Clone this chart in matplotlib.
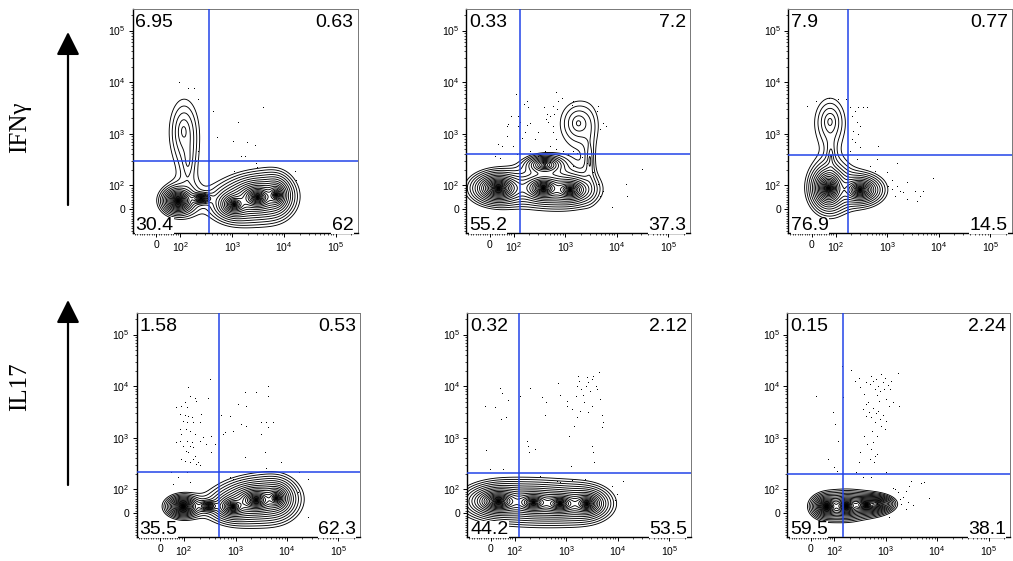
import numpy as np
import matplotlib
matplotlib.use('Agg')
import matplotlib.pyplot as plt
from matplotlib.ticker import FixedLocator, FixedFormatter, NullFormatter

plt.rcParams['font.family'] = ['Liberation Sans', 'DejaVu Sans']
plt.rcParams['mathtext.fontset'] = 'custom'
plt.rcParams['mathtext.rm'] = 'Liberation Sans'
plt.rcParams['mathtext.it'] = 'Liberation Sans:italic'
plt.rcParams['mathtext.bf'] = 'Liberation Sans:bold'

# ---------------- data ----------------
row_labels = ['IFN\u03b3', 'IL17']
tick_values = [0, 1e2, 1e3, 1e4, 1e5]
tick_labels = ['0', '$10^{2}$', '$10^{3}$', '$10^{4}$', '$10^{5}$']
axis_min, axis_max = -100, 262144

# quadrant percentages (UL, UR, LL, LR) per panel, row-major
quad_00 = ['6.95', '0.63', '30.4', '62']
quad_01 = ['0.33', '7.2', '55.2', '37.3']
quad_02 = ['7.9', '0.77', '76.9', '14.5']
quad_10 = ['1.58', '0.53', '35.5', '62.3']
quad_11 = ['0.32', '2.12', '44.2', '53.5']
quad_12 = ['0.15', '2.24', '59.5', '38.1']

# quadrant gate positions
gate_x = [350, 130, 177, 473, 124, 148]
gate_y = [300, 408, 391, 222, 206, 197]

# density components: centre x, centre y (data units), spread x, spread y (decades), peak height, profile
comp_00 = dict(cx=[90, 1100, 3100, 7000, 250, 115, 140],
               cy=[35, 20, 50, 60, 45, 1135, 300],
               sx=[0.0052, 0.009, 0.0096, 0.006, 0.057, 0.23, 0.12],
               sy=[0.0043, 0.0069, 0.0068, 0.0075, 0.029, 0.50, 0.43],
               amp=[1.0, 0.35, 0.9, 0.4, 0.03, 0.0028, 0.0016],
               shape=[0.45, 0.45, 0.45, 0.45, 1.0, 1.0, 1.0])
comp_01 = dict(cx=[36, 378, 1240, 400, 1800, 3000],
               cy=[88, 88, 81, 250, 1600, 300],
               sx=[0.0086, 0.0091, 0.0118, 0.13, 0.29, 0.076],
               sy=[0.0052, 0.0055, 0.0071, 0.065, 0.35, 0.38],
               amp=[1.0, 0.6, 0.3, 0.02, 0.003, 0.0018],
               shape=[0.45, 0.45, 0.45, 1.0, 1.0, 1.0])
comp_02 = dict(cx=[70, 298, 76, 80],
               cy=[88, 81, 1720, 350],
               sx=[0.0058, 0.0101, 0.24, 0.06],
               sy=[0.0074, 0.0068, 0.37, 0.26],
               amp=[1.0, 0.35, 0.003, 0.0018],
               shape=[0.45, 0.45, 1.0, 1.0])
comp_10 = dict(cx=[96, 894, 2530, 6170, 300],
               cy=[28, 28, 55, 63, 30],
               sx=[0.0053, 0.0086, 0.0107, 0.0073, 0.057],
               sy=[0.0034, 0.0058, 0.0064, 0.0073, 0.029],
               amp=[1.0, 0.4, 0.9, 0.4, 0.03],
               shape=[0.45, 0.45, 0.45, 0.45, 1.0])
comp_11 = dict(cx=[32, 232, 760, 2500],
               cy=[50, 45, 40, 40],
               sx=[0.0107, 0.0112, 0.0113, 0.0085],
               sy=[0.0054, 0.0058, 0.0058, 0.0059],
               amp=[1.0, 0.6, 0.55, 0.5],
               shape=[0.45, 0.45, 0.45, 0.45])
comp_12 = dict(cx=[67, 172, 420, 700],
               cy=[28, 30, 35, 40],
               sx=[0.0047, 0.0052, 0.0088, 0.075],
               sy=[0.0036, 0.0037, 0.0041, 0.037],
               amp=[1.0, 0.9, 0.5, 0.05],
               shape=[0.45, 0.45, 0.45, 1.0])

# sparse events drawn as dots
dots_x_00 = [95, 140, 180, 215, 420, 510, 1030, 1300, 1950, 2800, 3900, 1450, 1780, 2900, 1100, 16000, 17000, 215, 200, 3000]
dots_y_00 = [9500, 7300, 7500, 4500, 2600, 820, 680, 1650, 650, 580, 3100, 360, 360, 260, 180, 180, 120, 450, 290, 215]

dots_x_01 = [112, 124, 130, 119, 78, 185, 208, 167, 71, 36, 50, 97, 144, 260, 303, 208, 303, 407, 452, 510, 472, 590,
             608, 684, 738, 855, 590, 573, 665, 510, 665, 923, 1150, 1440, 1670, 2085, 665, 393, 426, 194, 160, 71,
             88, 22, 43, 115, 378, 508, 1440, 1335, 4070, 4390, 5480, 6080, 4720, 2610, 3510, 4390, 5480, 4720, 7940,
             15000, 30200, 15900, 1440, 180]
dots_y_01 = [5650, 2150, 1600, 1375, 1480, 1420, 1550, 1020, 881, 608, 565, 565, 783, 760, 1020, 452, 361, 452, 2318,
             2150, 1644, 3360, 2318, 2890, 4200, 4660, 1375, 1020, 760, 565, 486, 452, 389, 452, 407, 336, 6080, 3210,
             1850, 3210, 3610, 1375, 2085, 361, 321, 389, 268, 268, 4200, 3460, 2685, 3260, 1550, 1375, 1185, 261, 172,
             100, 74, 53, 4, 100, 200, 53, 232, 4200]

dots_x_02 = [-21, 18, 70, 113, 160, 191, 238, 277, 346, 413, 205, 257, 298, 221, 277, 205, 238, 298, 191, 675, 1530,
             257, 627, 466, 582, 980, 1220, 1530, 1770, 2055, 1420, 2380, 3460, 4315, 4870, 3720, 7830, 2380, 1220, 1055]
dots_y_02 = [3260, 4200, 4660, 4520, 4520, 3120, 2690, 3120, 3120, 3120, 2150, 1600, 1375, 1100, 950, 760, 655, 524,
             452, 565, 260, 312, 312, 232, 185, 172, 119, 95, 74, 67, 53, 39, 70, 53, 74, 32, 132, 110, 81, 95]

dots_x_10 = [120, 129, 162, 174, 104, 89, 115, 68, 82, 104, 120, 140, 218, 96, 115, 150, 202, 82, 108, 129, 89, 162,
             82, 115, 140, 202, 68, 235, 340, 96, 129, 150, 108, 120, 162, 89, 104, 129, 174, 202, 395, 340, 272, 293,
             316, 47, 115, 75, 133, 54, 188, 150,
             572, 616, 893, 1117, 1503, 1618, 2528, 4250, 4250, 531, 769, 1295, 1618, 3162, 3945, 4250, 5310, 3162,
             3664, 1503, 7690, 3945, 893, 1202, 769, 17460, 25300, 25300, 16200]
dots_y_10 = [9080, 6270, 5560, 5010, 4650, 4010, 3720, 3720, 2770, 2650, 2570, 2385, 2770, 2055, 1910, 1910, 1910,
             1420, 1420, 1316, 1135, 1135, 843, 843, 783, 843, 783, 980, 1055, 675, 675, 627, 540, 501, 432, 372, 346,
             321, 298, 285, 727, 501, 727, 5560, 13150, 205, 205, 164, 132, 122, 321, 372,
             1135, 1220, 1316, 4315, 7260, 4010, 7260, 9770, 6270, 2650, 2570, 1772, 1650, 1910, 1965, 1527, 1910,
             1135, 501, 401, 321, 245, 153, 148, 164, 212, 153, -21, 84]

dots_x_11 = [-24, 18, 39, 46, 74, 42, 63, -19, -3, 53, 128, 200, 177, 185, 194, 249, 336, 407, 389, 705, 760, 1020,
             1020, 1150, 1240, 1440, 1550, 1600, 1720, 1800, 1910, 2090, 2210, 2420, 2490, 2690, 2890, 3120, 3360, 3780,
             4010, 4380, 4520, 4870, 5080, 4870, 3210, 3120, 3360, 3460, 2690, 1860, 1600, 1275,
             655, 760, 1275, 312, 420, 2315, 7600, 9480, 12760, 8810]
dots_y_11 = [4010, 3720, 8690, 7050, 5160, 2215, 2385, 556, 238, 238, 6080, 8690, 843, 675, 501, 580, 5800, 4650, 2650,
             11000, 6400, 5010, 4010, 1055, 277, 1650, 6270, 9770, 15300, 12200, 8430, 6400, 4650, 9770, 14200, 11700,
             7830, 13150, 15300, 9770, 8430, 17700, 5400, 2650, 1910, 1527, 4010, 675, 516, 321, 2980, 3210, 2385, 3430,
             142, 132, 146, 177, 132, 153, 113, 76, 142, 53]

dots_x_12 = [22, 92, 102, 119, 144, 74, 97, 110, 215, 257, 303, 321, 372, 407, 452, 486, 524, 565, 608, 655, 675, 705,
             738, 783, 818, 881, 908, 950, 1020, 1100, 1150, 1275, 1220, 1375, 1720, 1800, 361, 407, 420, 472, 524, 565,
             608, 635, 705, 760, 818, 881, 950, 990, 548, 675, 565, 524, 608, 372, 432, 312, 303, 486, 590, 675, 268,
             361, 524, 1020, 138,
             1480, 1720, 1860, 2150, 2490, 2690, 3120, 3360, 4870, 5650, 7050, 2490, 1995, 1150, 1375, 2890]
dots_y_12 = [6270, 2980, 1772, 818, 5800, 372, 257, 221, 19950, 12200, 13550, 9350, 6740, 11350, 4650, 10540, 14830,
             12200, 8430, 13150, 6400, 9770, 5010, 7830, 16440, 11350, 8430, 13550, 5400, 10070, 4010, 12200, 8430,
             4650, 16940, 4010, 3460, 2570, 4315, 2980, 2385, 3540, 1910, 2880, 3210, 2215, 1650, 2650, 1420, 2055,
             1316, 1055, 783, 580, 432, 1055, 727, 501, 321, 372, 321, 466, 205, 164, 164, 212, 23200,
             97, 83, 56, 63, 90, 42, 142, 28, 128, 132, 58, 14, 35, -21, 100, 113]

# ---------------- scale ----------------
X0 = 94.0
LN10 = np.log(10.0)
U0 = np.log10(X0)


def fwd(x):
    x = np.asarray(x, dtype=float)
    return np.where(x >= X0, np.log10(np.maximum(x, X0)), U0 + (x - X0) / (X0 * LN10))


def inv(u):
    u = np.asarray(u, dtype=float)
    return np.where(u >= U0, 10.0 ** np.clip(u, U0, 12), X0 + (u - U0) * X0 * LN10)


minor_ticks = ([-90, -80, -70, -60, -50, -40, -30, -20, -10, 10, 20, 30, 40, 50, 60, 70, 80, 90] +
               [k * 10.0 ** n for n in (2, 3, 4) for k in range(2, 10)] + [2e5])

W, H = 1013, 561
fig = plt.figure(figsize=(W / 100, H / 100), dpi=100)

# panel boxes in pixels: left, top, right, bottom
boxes = [(132.5, 9, 357.5, 233), (466, 9, 690, 233), (788, 9, 1012, 233),
         (136.5, 313, 360, 537), (467, 313, 691, 537), (787, 313, 1010, 537)]
quads = [quad_00, quad_01, quad_02, quad_10, quad_11, quad_12]
comps = [comp_00, comp_01, comp_02, comp_10, comp_11, comp_12]
dots = [(dots_x_00, dots_y_00), (dots_x_01, dots_y_01), (dots_x_02, dots_y_02),
        (dots_x_10, dots_y_10), (dots_x_11, dots_y_11), (dots_x_12, dots_y_12)]

gate_color = '#2244e8'
ugrid = np.linspace(float(fwd(axis_min)), float(fwd(axis_max)), 800)
UX, UY = np.meshgrid(ugrid, ugrid)
XD, YD = inv(UX), inv(UY)
NLEV = 26
RATIO = np.exp(-7.0 / NLEV)

for i, (l, t, r, b) in enumerate(boxes):
    ax = fig.add_axes([l / W, 1 - b / H, (r - l) / W, (b - t) / H])
    ax.set_xscale('function', functions=(fwd, inv))
    ax.set_yscale('function', functions=(fwd, inv))
    ax.set_xlim(axis_min, axis_max)
    ax.set_ylim(axis_min, axis_max)

    c = comps[i]
    Z = np.zeros_like(UX)
    for cx, cy, sx, sy, a, p in zip(c['cx'], c['cy'], c['sx'], c['sy'], c['amp'], c['shape']):
        ux, uy = float(fwd(cx)), float(fwd(cy))
        d = np.sqrt(((UX - ux) / sx) ** 2 + ((UY - uy) / sy) ** 2)
        Z += a * np.exp(-d ** p)
    zmax = max(c['amp'])
    levels = zmax * RATIO ** np.arange(NLEV, 0, -1)
    ax.contour(XD, YD, Z, levels=levels, colors='black', linewidths=0.65, zorder=2)

    dx, dy = dots[i]
    ax.plot(dx, dy, linestyle='none', marker=',', color='black', zorder=1)

    ax.axvline(gate_x[i], color=gate_color, lw=1.1, zorder=3)
    ax.axhline(gate_y[i], color=gate_color, lw=1.1, zorder=3)

    for axis in (ax.xaxis, ax.yaxis):
        axis.set_major_locator(FixedLocator(tick_values))
        axis.set_major_formatter(FixedFormatter(tick_labels))
        axis.set_minor_locator(FixedLocator(minor_ticks))
        axis.set_minor_formatter(NullFormatter())
    ax.tick_params(which='major', length=3, width=0.7, labelsize=7.5, pad=2, direction='out')
    ax.tick_params(which='minor', length=1.6, width=0.5, direction='out')
    for side in ('top', 'right'):
        ax.spines[side].set_color('#777777')
        ax.spines[side].set_linewidth(0.7)
    for side in ('left', 'bottom'):
        ax.spines[side].set_linewidth(1.0)

    q = quads[i]
    bb = dict(facecolor='white', edgecolor='none', pad=0.3)
    ax.annotate(q[0], (0, 1), xycoords='axes fraction', xytext=(3, -5), textcoords='offset pixels',
                ha='left', va='top', fontsize=14, bbox=bb, zorder=5)
    ax.annotate(q[1], (1, 1), xycoords='axes fraction', xytext=(-4, -5), textcoords='offset pixels',
                ha='right', va='top', fontsize=14, bbox=bb, zorder=5)
    ax.annotate(q[2], (0, 0), xycoords='axes fraction', xytext=(3, 3), textcoords='offset pixels',
                ha='left', va='baseline', fontsize=14, bbox=bb, zorder=5)
    ax.annotate(q[3], (1, 0), xycoords='axes fraction', xytext=(-4, 3), textcoords='offset pixels',
                ha='right', va='baseline', fontsize=14, bbox=bb, zorder=5)

# overlay for row labels and arrows
ov = fig.add_axes([0, 0, 1, 1])
ov.set_xlim(0, W)
ov.set_ylim(H, 0)
ov.axis('off')
for (label, ly, tail, tip) in [(row_labels[0], 127, 205, 32), (row_labels[1], 387, 485, 300)]:
    ov.text(20, ly, label, rotation=90, ha='center', va='center', fontsize=18,
            family=['Liberation Serif', 'DejaVu Serif'])
    ov.annotate('', xy=(68, tip), xytext=(68, tail),
                arrowprops=dict(arrowstyle='-|>,head_length=1.4,head_width=0.7', lw=1.6, color='black',
                                shrinkA=0, shrinkB=0))

fig.savefig('out.png', dpi=100)
